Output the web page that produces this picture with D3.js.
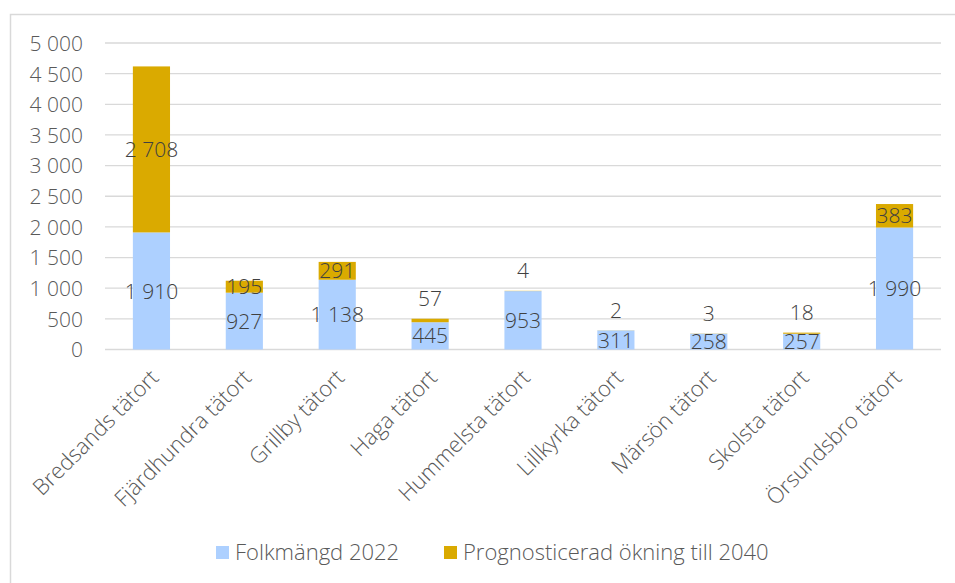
<!DOCTYPE html>
<html>
<head>
<meta charset="utf-8">
<script src="https://cdn.jsdelivr.net/npm/d3@7"></script>
<style>
  body { margin: 0; background: #fff; }
  svg text { font-family: "Open Sans", sans-serif; font-weight: 300; }
</style>
</head>
<body>
<svg width="955" height="583"></svg>
<script>
const categories = ['Bredsands tätort', 'Fjärdhundra tätort', 'Grillby tätort', 'Haga tätort',
  'Hummelsta tätort', 'Lillkyrka tätort', 'Märsön tätort', 'Skolsta tätort', 'Örsundsbro tätort'];
const folkmangd = [1910, 927, 1138, 445, 953, 311, 258, 257, 1990];
const okning = [2708, 195, 291, 57, 4, 2, 3, 18, 383];
const seriesNames = ['Folkmängd 2022', 'Prognosticerad ökning till 2040'];
const yTicks = [0, 500, 1000, 1500, 2000, 2500, 3000, 3500, 4000, 4500, 5000];

const colors = ['#ADD0FF', '#DAAA00'];
const [width, height] = [955, 583];
const margin = {top: 43, right: 14, bottom: 233.5, left: 105};
const fs = 21;

const fmt = d3.formatLocale({thousands: '\u00a0', grouping: [3], decimal: ','}).format(',d');

const svg = d3.select('svg').attr('viewBox', [0, 0, width, height]);

// chart frame (only top and left edges are visible)
svg.append('rect')
  .attr('x', 10.5).attr('y', 14.5)
  .attr('width', width + 20).attr('height', height + 20)
  .attr('fill', 'none').attr('stroke', '#d9d9d9').attr('stroke-width', 1.5);

const x = d3.scaleBand()
  .domain(categories)
  .range([margin.left, width - margin.right])
  .paddingInner(0.6)
  .paddingOuter(0.3);

const y = d3.scaleLinear()
  .domain([0, 5000])
  .range([height - margin.bottom, margin.top]);

// grid
svg.append('g')
  .selectAll('line')
  .data(yTicks)
  .join('line')
  .attr('x1', margin.left).attr('x2', width - margin.right)
  .attr('y1', d => y(d)).attr('y2', d => y(d))
  .attr('stroke', '#d9d9d9').attr('stroke-width', 1.3);

// y axis
const yAxis = d3.axisLeft(y).tickValues(yTicks).tickFormat(fmt).tickSize(0).tickPadding(0);
const gy = svg.append('g')
  .attr('transform', `translate(${margin.left - 22},0)`)
  .call(yAxis);
gy.select('.domain').remove();
gy.selectAll('text').attr('font-size', fs).attr('fill', '#595959').attr('dy', '0.35em')
  .style('font-family', '"Open Sans", sans-serif').style('font-weight', 300);

// stacked bars
const rows = categories.map((c, i) => ({cat: c, folk: folkmangd[i], okn: okning[i]}));
const stack = d3.stack().keys(['folk', 'okn'])(rows);

const layers = svg.append('g')
  .selectAll('g')
  .data(stack)
  .join('g')
  .attr('fill', (d, i) => colors[i]);

layers.selectAll('rect')
  .data(d => d)
  .join('rect')
  .attr('x', d => x(d.data.cat))
  .attr('width', x.bandwidth())
  .attr('y', d => y(d[1]))
  .attr('height', d => y(d[0]) - y(d[1]));

// data labels
const labels = svg.append('g')
  .attr('text-anchor', 'middle')
  .attr('font-size', fs)
  .attr('fill', '#404040');

stack.forEach(layer => {
  labels.selectAll(null)
    .data(layer)
    .join('text')
    .attr('x', d => x(d.data.cat) + x.bandwidth() / 2)
    .attr('y', d => {
      const h = y(d[0]) - y(d[1]);
      if (h < 8) return y(d[1]) - 20;
      return (y(d[0]) + y(d[1])) / 2;
    })
    .attr('dy', '0.36em')
    .text(d => fmt(d[1] - d[0]));
});

// x axis labels
svg.append('g')
  .selectAll('text')
  .data(categories)
  .join('text')
  .attr('transform', d => `translate(${x(d) + x.bandwidth() / 2 + 3},${y(0) + 24}) rotate(-45)`)
  .attr('text-anchor', 'end')
  .attr('font-size', 22)
  .attr('fill', '#595959')
  .attr('dy', '0.35em')
  .text(d => d);

// legend
const legendX = [216, 444];
const leg = svg.append('g')
  .selectAll('g')
  .data(seriesNames)
  .join('g')
  .attr('transform', (d, i) => `translate(${legendX[i]},546)`);
leg.append('rect').attr('width', 13).attr('height', 13).attr('fill', (d, i) => colors[i]);
leg.append('text')
  .attr('x', 19).attr('y', 6.5).attr('dy', '0.36em')
  .attr('font-size', 22).attr('fill', '#595959')
  .text(d => d);
</script>
</body>
</html>
